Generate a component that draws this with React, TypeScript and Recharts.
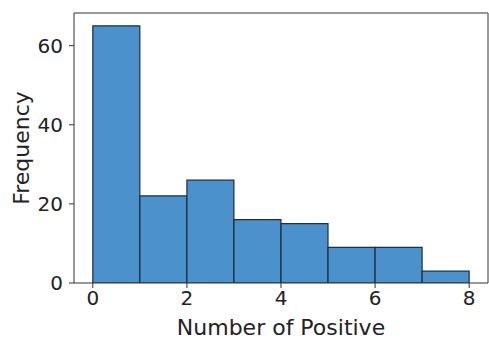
import { BarChart, Bar, XAxis, YAxis, ReferenceLine, Label } from "recharts";

// histogram bins (left edge .. left edge + 1) and their counts
const BIN_STARTS = [0, 1, 2, 3, 4, 5, 6, 7];
const COUNTS = [65, 22, 26, 16, 15, 9, 9, 3];
const X_TICKS = [0, 2, 4, 6, 8];
const Y_TICKS = [0, 20, 40, 60];

const data = BIN_STARTS.map((start, i) => ({ mid: start + 0.5, count: COUNTS[i] }));

const X_MIN = -0.4;
const X_MAX = 8.4;
const Y_MAX = 68.25;

const FONT = "DejaVu Sans, sans-serif";

export default function App() {
  return (
    <div style={{ position: "absolute", left: 0, top: 0, background: "#fff" }}>
      <BarChart
        width={489}
        height={339}
        data={data}
        margin={{ top: 13, right: 1, bottom: 0, left: 0 }}
        barCategoryGap={0}
        barGap={0}
      >
        <XAxis
          dataKey="mid"
          type="number"
          domain={[X_MIN, X_MAX]}
          ticks={X_TICKS}
          allowDataOverflow
          height={56}
          tickSize={5}
          tickMargin={3}
          tickLine={{ stroke: "#333" }}
          axisLine={{ stroke: "#333" }}
          tick={{ fontSize: 20, fill: "#222", fontFamily: FONT }}
        >
          <Label
            value="Number of Positive"
            position="insideBottom"
            offset={4}
            style={{ fontSize: 22, fill: "#222", fontFamily: FONT }}
          />
        </XAxis>
        <YAxis
          type="number"
          domain={[0, Y_MAX]}
          ticks={Y_TICKS}
          allowDataOverflow
          width={74}
          tickSize={5}
          tickMargin={6}
          tickLine={{ stroke: "#333" }}
          axisLine={{ stroke: "#333" }}
          tick={{ fontSize: 20, fill: "#222", fontFamily: FONT }}
        >
          <Label
            value="Frequency"
            angle={-90}
            position="center"
            dx={-16}
            style={{ fontSize: 22, fill: "#222", fontFamily: FONT, textAnchor: "middle" }}
          />
        </YAxis>
        <ReferenceLine y={Y_MAX} stroke="#777" strokeWidth={1.5} ifOverflow="extendDomain" />
        <ReferenceLine x={X_MAX} stroke="#777" strokeWidth={1.5} ifOverflow="extendDomain" />
        <Bar dataKey="count" fill="#4b91cc" stroke="#1e2f3d" strokeWidth={1.2} isAnimationActive={false} />
      </BarChart>
    </div>
  );
}
